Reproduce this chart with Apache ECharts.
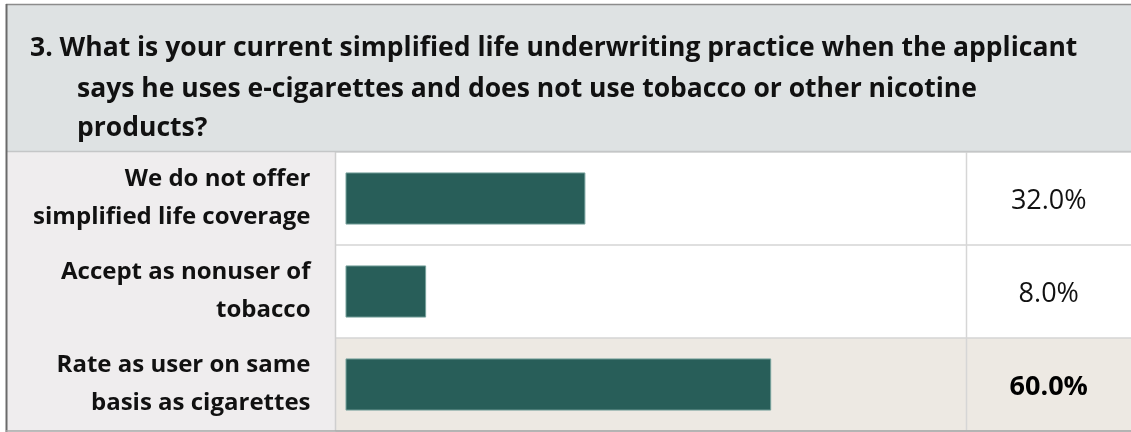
<!DOCTYPE html>
<html>
<head>
<meta charset="utf-8">
<script src="https://cdn.jsdelivr.net/npm/echarts@6/dist/echarts.min.js"></script>
<style>
  html, body { margin: 0; padding: 0; background: #ffffff; }
  #chart { width: 1131px; height: 432px; }
</style>
</head>
<body>
<div id="chart"></div>
<script>
// Survey question and answers
const questionFirstLine = '3. What is your current simplified life underwriting practice when the applicant';
const questionRest = 'says he uses e-cigarettes and does not use tobacco or other nicotine\nproducts?';
const categories = [
  'We do not offer\nsimplified life coverage',
  'Accept as nonuser of\ntobacco',
  'Rate as user on same\nbasis as cigarettes'
];
const shares = [32.0, 8.0, 60.0];
const shareLabels = shares.map(v => v.toFixed(1) + '%');

// Data bars keep a short stub below zero so the smallest answer still reads as a bar
const BAR_AXIS_MIN = -4;
const BAR_AXIS_MAX = 60;

// Table layout (px)
const T = {
  left: 7, top: 5, right: 1131,
  headerBottom: 151.5, bodyTop: 152, bodyBottom: 431,
  labelColRight: 335.5, valueColLeft: 966.5,
  barLeft: 346, barRight: 770.7
};
const FONT = '"Open Sans", "Noto Sans", sans-serif';
const TEXT = '#111111';
const topIndex = shares.indexOf(Math.max.apply(null, shares));

const chart = echarts.init(document.getElementById('chart'), null, { renderer: 'canvas' });

chart.setOption({
  animation: false,
  backgroundColor: '#ffffff',
  title: [
    {
      text: questionFirstLine,
      left: 30, top: 27, padding: 0,
      textStyle: { fontFamily: FONT, fontSize: 26.5, fontWeight: 'bold', color: TEXT, lineHeight: 42 }
    },
    {
      text: questionRest,
      left: 77, top: 70, padding: 0,
      textStyle: { fontFamily: FONT, fontSize: 26.5, fontWeight: 'bold', color: TEXT, lineHeight: 39 }
    }
  ],
  graphic: [
    // header band
    { type: 'rect', z: -5, shape: { x: T.left, y: T.top, width: T.right - T.left, height: T.headerBottom - T.top },
      style: { fill: '#dee2e3' } },
    // label column
    { type: 'rect', z: -5, shape: { x: T.left, y: T.bodyTop, width: T.labelColRight - T.left, height: T.bodyBottom - T.bodyTop },
      style: { fill: '#efedee' } },
    // column dividers
    { type: 'line', z: 50, shape: { x1: T.labelColRight, y1: T.headerBottom, x2: T.labelColRight, y2: T.bodyBottom },
      style: { stroke: '#cfcfcf', lineWidth: 1.5 } },
    { type: 'line', z: 50, shape: { x1: T.valueColLeft, y1: T.headerBottom, x2: T.valueColLeft, y2: T.bodyBottom },
      style: { stroke: '#d6d6d6', lineWidth: 1.5 } },
    // header rule
    { type: 'line', z: 50, shape: { x1: T.left, y1: T.headerBottom, x2: T.right, y2: T.headerBottom },
      style: { stroke: '#c4c6c7', lineWidth: 1.5 } },
    // outer frame
    { type: 'line', z: 60, shape: { x1: 6, y1: 4.5, x2: T.right, y2: 4.5 },
      style: { stroke: '#8c8c8c', lineWidth: 1.5 } },
    { type: 'line', z: 60, shape: { x1: 6.5, y1: 4, x2: 6.5, y2: 432 },
      style: { stroke: '#6a6a6a', lineWidth: 2 } },
    { type: 'line', z: 60, shape: { x1: 6, y1: 431, x2: T.right, y2: 431 },
      style: { stroke: '#a6a6a6', lineWidth: 1.5 } }
  ],
  grid: [
    // table body: bar column + value column
    { left: T.labelColRight, right: 0, top: T.bodyTop, height: T.bodyBottom - T.bodyTop },
    // data bar area
    { left: T.barLeft, width: T.barRight - T.barLeft, top: T.bodyTop, height: T.bodyBottom - T.bodyTop }
  ],
  xAxis: [
    { gridIndex: 0, type: 'value', show: false, min: 0, max: 1 },
    { gridIndex: 1, type: 'value', show: false, min: BAR_AXIS_MIN, max: BAR_AXIS_MAX }
  ],
  yAxis: [
    {
      gridIndex: 0, type: 'category', inverse: true, data: categories,
      axisLine: { show: false }, axisTick: { show: false },
      axisLabel: {
        margin: 25, fontFamily: FONT, fontSize: 24, fontWeight: 'bold',
        color: TEXT, lineHeight: 38, align: 'right', padding: [9, 0, 0, 0]
      },
      splitArea: { show: true, areaStyle: { color: ['#ffffff', '#ffffff', '#ede9e3'] } },
      splitLine: { show: true, lineStyle: { color: '#d4d4d4', width: 1.5 } }
    },
    {
      gridIndex: 0, type: 'category', inverse: true, position: 'right', data: shareLabels,
      axisLine: { show: false }, axisTick: { show: false },
      axisLabel: {
        margin: -(T.right - (T.valueColLeft + T.right) / 2), align: 'center',
        fontFamily: FONT, fontSize: 27, color: TEXT, padding: [6, 0, 0, 0],
        formatter: (value, idx) => idx === topIndex ? '{top|' + value + '}' : value,
        rich: { top: { fontFamily: FONT, fontSize: 27, fontWeight: 'bold', color: '#000' } }
      }
    },
    { gridIndex: 1, type: 'category', inverse: true, data: categories, show: false }
  ],
  series: [
    {
      type: 'custom',
      xAxisIndex: 1, yAxisIndex: 2,
      data: shares.map((v, i) => [v, i]),
      encode: { x: 0, y: 1 },
      renderItem: (params, api) => {
        const cat = api.value(1);
        const end = api.coord([api.value(0), cat]);
        const start = api.coord([BAR_AXIS_MIN, cat]);
        const h = api.size([0, 1])[1] * 0.55;
        return {
          type: 'rect',
          shape: { x: start[0], y: end[1] - h / 2, width: end[0] - start[0], height: h },
          style: { fill: '#285e59', stroke: '#77a29c', lineWidth: 1 }
        };
      }
    }
  ]
});
</script>
</body>
</html>
